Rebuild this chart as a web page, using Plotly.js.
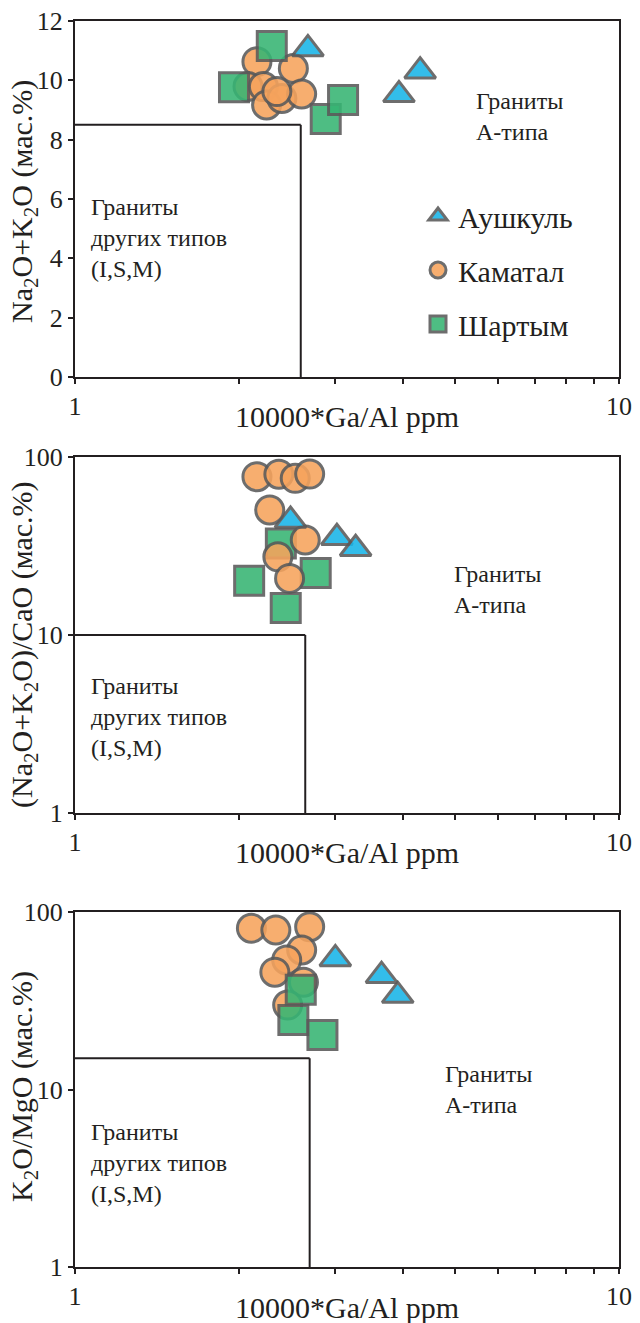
<!DOCTYPE html>
<html>
<head>
<meta charset="utf-8">
<script src="https://cdn.plot.ly/plotly-3.0.1.min.js"></script>
<style>html,body{margin:0;padding:0;background:#fff;}#chart{width:640px;height:1323px;}</style>
</head>
<body>
<div id="chart"></div>
<script>
// ---- Data ----
const seriesNames = ["Аушкуль", "Каматал", "Шартым"];

// Panel 1: Na2O+K2O vs 10000*Ga/Al
const aushkulGa1 = [2.68, 3.94, 4.31];
const aushkulAlk = [11.06, 9.51, 10.31];
const kamatalGa1 = [2.16, 2.52, 2.08, 2.22, 2.25, 2.40, 2.61, 2.35];
const kamatalAlk = [10.63, 10.40, 9.79, 9.79, 9.17, 9.39, 9.54, 9.62];
const shartymGa1 = [2.30, 1.96, 2.89, 3.11];
const shartymAlk = [11.16, 9.77, 8.70, 9.34];

// Panel 2: (Na2O+K2O)/CaO vs 10000*Ga/Al
const aushkulGa2 = [2.49, 3.03, 3.28];
const aushkulAlkCa = [44.0, 35.2, 30.5];
const kamatalGa2 = [2.16, 2.37, 2.54, 2.70, 2.28, 2.65, 2.36, 2.48];
const kamatalAlkCa = [77.5, 80.0, 75.9, 80.2, 50.4, 34.2, 27.5, 20.8];
const shartymGa2 = [2.39, 2.09, 2.77, 2.44];
const shartymAlkCa = [32.7, 20.2, 22.3, 14.2];

// Panel 3: K2O/MgO vs 10000*Ga/Al
const aushkulGa3 = [3.01, 3.66, 3.92];
const aushkulKMg = [54.4, 43.8, 33.8];
const kamatalGa3 = [2.11, 2.34, 2.70, 2.61, 2.45, 2.33, 2.63, 2.46];
const kamatalKMg = [81.0, 79.2, 82.6, 61.1, 53.7, 45.8, 40.2, 29.9];
const shartymGa3 = [2.60, 2.52, 2.85];
const shartymKMg = [36.5, 24.6, 20.3];

// Field boundaries (granites of other types I,S,M)
const boundaryGa = [2.6, 2.65, 2.7];
const boundaryY = [8.5, 10, 15];
const yMin = [0, 1, 1];

// Tick labels
const xTickVals = [1, 10];
const xTickText = ["1", "10"];
const xMinorVals = [2, 3, 4, 5, 6, 7, 8, 9];
const y1TickVals = [0, 2, 4, 6, 8, 10, 12];
const yLogTickVals = [1, 10, 100];
const yLogTickText = ["1", "10", "100"];
const yTitles = [
  "Na<sub>2</sub>O+K<sub>2</sub>O (мас.%)",
  "(Na<sub>2</sub>O+K<sub>2</sub>O)/CaO (мас.%)",
  "K<sub>2</sub>O/MgO (мас.%)"
];
const xTitle = "10000*Ga/Al ppm";
const otherLabel = "Граниты<br>других типов<br>(I,S,M)";
const aLabel = "Граниты<br>А-типа";

// ---- Styles ----
const FONT = "Liberation Serif, Times New Roman, serif";
const INK = "#231f20";
const EDGE = "#5a5a5a";
const colors = {a: "#17b4e8", k: "#f6a35c", s: "#36b573"};

function mk(sym, color, size) {
  return {symbol: sym, color: color, size: size, opacity: 0.88, line: {color: EDGE, width: 3}};
}
function tr(x, y, name, sym, color, size, ax, show, rank) {
  return {
    type: "scatter", mode: "markers", x: x, y: y, name: name,
    marker: mk(sym, color, size),
    xaxis: "x" + ax, yaxis: "y" + ax, showlegend: show, legendrank: rank,
    legendgroup: name, cliponaxis: false, hoverinfo: "x+y+name"
  };
}

const traces = [
  // panel 1
  tr(kamatalGa1, kamatalAlk, seriesNames[1], "circle", colors.k, 28, "", true, 2),
  tr(shartymGa1, shartymAlk, seriesNames[2], "square", colors.s, 29, "", true, 3),
  tr(aushkulGa1, aushkulAlk, seriesNames[0], "triangle-up", colors.a, 27, "", true, 1),
  // panel 2
  tr(shartymGa2, shartymAlkCa, seriesNames[2], "square", colors.s, 29, "2", false, 3),
  tr(kamatalGa2, kamatalAlkCa, seriesNames[1], "circle", colors.k, 28, "2", false, 2),
  tr(aushkulGa2, aushkulAlkCa, seriesNames[0], "triangle-up", colors.a, 27, "2", false, 1),
  // panel 3
  tr(kamatalGa3, kamatalKMg, seriesNames[1], "circle", colors.k, 28, "3", false, 2),
  tr(shartymGa3, shartymKMg, seriesNames[2], "square", colors.s, 29, "3", false, 3),
  tr(aushkulGa3, aushkulKMg, seriesNames[0], "triangle-up", colors.a, 27, "3", false, 1)
];
traces.slice(0, 3).forEach(t => { t.xaxis = "x"; t.yaxis = "y"; });

const W = 640, H = 1323;
const xDom = [75 / W, 619 / W];
const panelPx = [[21, 377], [457, 813], [912, 1267]];
const yDoms = panelPx.map(p => [1 - p[1] / H, 1 - p[0] / H]);

function xAxis(i) {
  return {
    type: "log", range: [0, 1], domain: xDom, anchor: i === 0 ? "y" : "y" + (i + 1),
    showline: true, mirror: true, linecolor: INK, linewidth: 2,
    ticks: "outside", ticklen: 5, tickwidth: 2, tickcolor: INK,
    tickmode: "array", tickvals: xTickVals, ticktext: xTickText,
    minor: {tickmode: "array", tickvals: xMinorVals, ticks: "outside", ticklen: 5, tickwidth: 2, tickcolor: INK, showgrid: false},
    tickfont: {family: FONT, size: 26, color: INK},
    showgrid: false, zeroline: false
  };
}
function yAxis(i) {
  const base = {
    domain: yDoms[i], anchor: i === 0 ? "x" : "x" + (i + 1),
    showline: true, mirror: true, linecolor: INK, linewidth: 2,
    ticks: "outside", ticklen: 5, tickwidth: 2, tickcolor: INK,
    tickfont: {family: FONT, size: 26, color: INK},
    showgrid: false, zeroline: false
  };
  if (i === 0) {
    base.range = [0, 12]; base.tickmode = "array"; base.tickvals = y1TickVals;
  } else {
    base.type = "log"; base.range = [0, 2]; base.tickmode = "array";
    base.tickvals = yLogTickVals; base.ticktext = yLogTickText;
  }
  return base;
}

const shapes = [];
for (let i = 0; i < 3; i++) {
  const xr = i === 0 ? "x" : "x" + (i + 1);
  const yr = i === 0 ? "y" : "y" + (i + 1);
  shapes.push({type: "line", xref: xr, yref: yr, x0: 1, x1: boundaryGa[i], y0: boundaryY[i], y1: boundaryY[i], line: {color: INK, width: 2}});
  shapes.push({type: "line", xref: xr, yref: yr, x0: boundaryGa[i], x1: boundaryGa[i], y0: yMin[i], y1: boundaryY[i], line: {color: INK, width: 2}});
}

const annFont = {family: FONT, size: 24, color: INK};
const leftLabelY = [238, 717, 1163];
const rightLabelPos = [[474, 116], [452, 590], [443, 1089]];
const xTitleY = [416, 852, 1307];
const yTitleY = [202, 645, 1087];
const annotations = [];
for (let i = 0; i < 3; i++) {
  annotations.push({xref: "paper", yref: "paper", x: 89 / W, y: 1 - leftLabelY[i] / H, xanchor: "left", yanchor: "middle", align: "left", showarrow: false, text: otherLabel, font: annFont});
  annotations.push({xref: "paper", yref: "paper", x: rightLabelPos[i][0] / W, y: 1 - rightLabelPos[i][1] / H, xanchor: "left", yanchor: "middle", align: "left", showarrow: false, text: aLabel, font: annFont});
  // axis titles
  annotations.push({xref: "paper", yref: "paper", x: 347 / W, y: 1 - xTitleY[i] / H, xanchor: "center", yanchor: "middle", showarrow: false, text: xTitle, font: {family: FONT, size: 30, color: INK}});
  annotations.push({xref: "paper", yref: "paper", x: 24 / W, y: 1 - yTitleY[i] / H, xanchor: "center", yanchor: "middle", textangle: -90, showarrow: false, text: yTitles[i], font: {family: FONT, size: 30, color: INK}});
}

const layout = {
  width: W, height: H,
  margin: {l: 0, r: 0, t: 0, b: 0},
  paper_bgcolor: "#ffffff", plot_bgcolor: "#ffffff",
  font: {family: FONT, color: INK},
  showlegend: true,
  legend: {
    x: 418 / W, y: 1 - 190 / H, xanchor: "left", yanchor: "top",
    bgcolor: "rgba(0,0,0,0)", borderwidth: 0,
    font: {family: FONT, size: 30, color: INK},
    traceorder: "grouped", tracegroupgap: 12, itemwidth: 30, itemsizing: "trace"
  },
  xaxis: xAxis(0), yaxis: yAxis(0),
  xaxis2: xAxis(1), yaxis2: yAxis(1),
  xaxis3: xAxis(2), yaxis3: yAxis(2),
  shapes: shapes, annotations: annotations
};

Plotly.newPlot("chart", traces, layout, {displayModeBar: false});
</script>
</body>
</html>
